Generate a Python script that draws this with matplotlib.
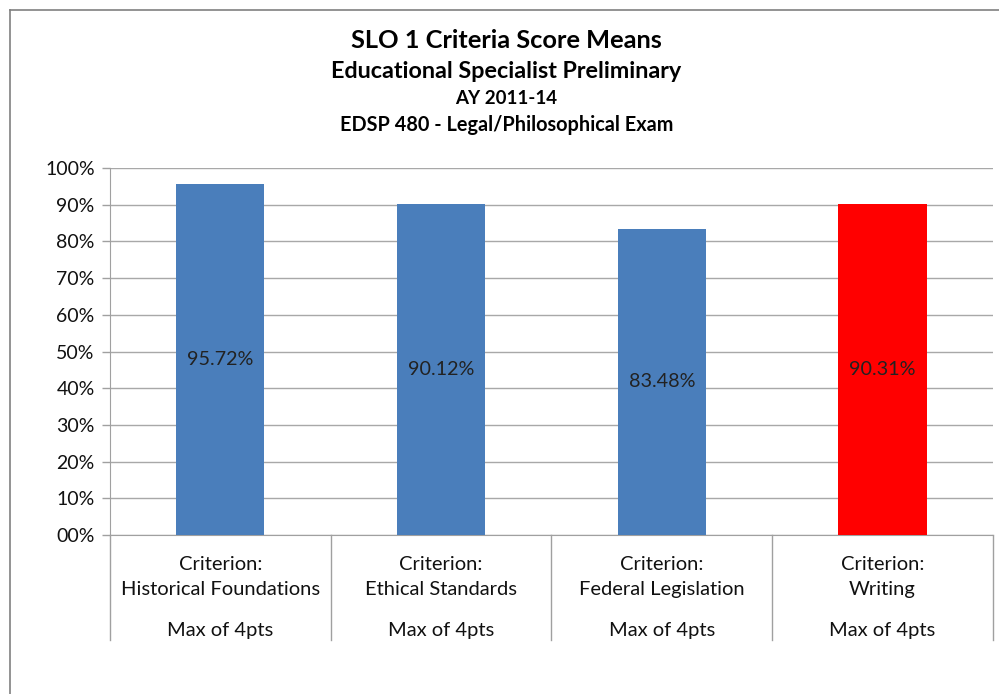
import matplotlib
matplotlib.use('Agg')
import matplotlib.pyplot as plt
from matplotlib.lines import Line2D
from matplotlib.ticker import FuncFormatter
import matplotlib.transforms as mtransforms

# 数据
criteria = ['Criterion:\nHistorical Foundations', 'Criterion:\nEthical Standards',
            'Criterion:\nFederal Legislation', 'Criterion:\nWriting']
max_note = 'Max of 4pts'
means = [95.72, 90.12, 83.48, 90.31]
bar_colors = ['#4a7ebb', '#4a7ebb', '#4a7ebb', '#ff0000']
titles = ['SLO 1 Criteria Score Means', 'Educational Specialist Preliminary',
          'AY 2011-14', 'EDSP 480 - Legal/Philosophical Exam']

plt.rcParams['font.family'] = ['Lato', 'DejaVu Sans']

fig = plt.figure(figsize=(9.99, 6.94), dpi=100)
ax = fig.add_axes([0.110, 0.229, 0.884, 0.529])

x = range(len(means))
bars = ax.bar(x, means, color=bar_colors, width=0.4, zorder=3)

# 数值标签放在柱子中间
for bar, v in zip(bars, means):
    ax.text(bar.get_x() + bar.get_width() / 2, v / 2, f'{v:.2f}%',
            ha='center', va='center', fontsize=14.2, color='#222222', zorder=4)

ax.set_xlim(-0.5, len(means) - 0.5)
ax.set_ylim(0, 100)
ax.set_yticks(range(0, 101, 10))
ax.yaxis.set_major_formatter(FuncFormatter(lambda v, p: f'{int(v):02d}%'))
ax.tick_params(axis='y', labelsize=14, length=6, color='#a0a0a0', width=1,
               pad=5, labelcolor='#111111')
ax.set_xticks([])
ax.grid(axis='y', color='#a8a8a8', linewidth=1, zorder=0)

for side in ['top', 'right']:
    ax.spines[side].set_visible(False)
ax.spines['left'].set_color('#a0a0a0')
ax.spines['bottom'].set_color('#a0a0a0')

# 分类标签与分隔线
trans = mtransforms.blended_transform_factory(ax.transData, ax.transAxes)
for i, name in enumerate(criteria):
    ax.text(i, -0.058, name, transform=trans, ha='center', va='top',
            fontsize=14.5, color='#111111', linespacing=1.55)
    ax.text(i, -0.259, max_note, transform=trans, ha='center', va='center',
            fontsize=14.5, color='#111111')
for xd in [k - 0.5 for k in range(len(means) + 1)]:
    ax.add_line(Line2D([xd, xd], [0, -0.286], transform=trans, color='#a0a0a0',
                       linewidth=1, clip_on=False))

# 标题
title_y = [0.942, 0.897, 0.858, 0.820]
title_sizes = [18.3, 16.8, 13.5, 14.3]
for t, yy, s in zip(titles, title_y, title_sizes):
    fig.text(0.507, yy, t, ha='center', va='center', fontsize=s, fontweight='bold')

# 外框
fig.add_artist(Line2D([0.010, 0.010], [0, 0.9856], color='#808080', linewidth=1.2))
fig.add_artist(Line2D([0.010, 1.0], [0.9856, 0.9856], color='#808080', linewidth=1.2))

fig.savefig('out.png', dpi=100)
